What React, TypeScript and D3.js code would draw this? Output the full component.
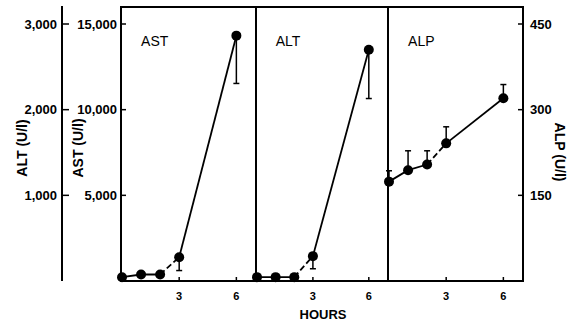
import React, { useEffect, useRef } from 'react';
import * as d3 from 'd3';

const HOURS = [0, 1, 2, 3, 6];
const HOUR_TICKS = [3, 6];

const AST_VALUES = [220, 380, 380, 1390, 14320];
const AST_ERR_DOWN = [0, 0, 0, 780, 2790];

const ALT_VALUES = [45, 45, 45, 290, 2700];
const ALT_ERR_DOWN = [0, 0, 0, 147, 570];

const ALP_VALUES = [174, 194, 204, 241, 320];
const ALP_ERR_UP = [19, 34, 24, 29, 24];

const ALT_TICKS = [1000, 2000, 3000];
const AST_TICKS = [5000, 10000, 15000];
const ALP_TICKS = [150, 300, 450];

const PANEL_LABELS = ['AST', 'ALT', 'ALP'];

const FONT = "Arial, 'Liberation Sans', Helvetica, sans-serif";

function App() {
  const svgRef = useRef(null);

  useEffect(() => {
    const svg = d3.select(svgRef.current);
    svg.selectAll('*').remove();

    const top = 7;
    const bottom = 281;
    const yTop = 24;
    const panelEdges = [121, 256, 388, 523];
    const outerAxisX = 62;

    const yAlt = d3.scaleLinear().domain([0, 3000]).range([bottom, yTop]);
    const yAst = d3.scaleLinear().domain([0, 15000]).range([bottom, yTop]);
    const yAlp = d3.scaleLinear().domain([0, 450]).range([bottom, yTop]);

    const fmt = d3.format(',');

    // outer ALT axis
    svg.append('line')
      .attr('x1', outerAxisX).attr('x2', outerAxisX)
      .attr('y1', 6).attr('y2', bottom)
      .attr('stroke', '#000').attr('stroke-width', 2);

    ALT_TICKS.forEach(t => {
      svg.append('line')
        .attr('x1', outerAxisX).attr('x2', outerAxisX + 7)
        .attr('y1', yAlt(t)).attr('y2', yAlt(t))
        .attr('stroke', '#000').attr('stroke-width', 1.5);
      svg.append('text')
        .attr('x', outerAxisX - 5).attr('y', yAlt(t))
        .attr('dy', '0.35em')
        .attr('text-anchor', 'end')
        .attr('font-family', FONT).attr('font-weight', 'bold').attr('font-size', 13)
        .text(fmt(t));
    });

    // AST axis (left frame edge)
    AST_TICKS.forEach(t => {
      svg.append('line')
        .attr('x1', panelEdges[0]).attr('x2', panelEdges[0] + 5)
        .attr('y1', yAst(t)).attr('y2', yAst(t))
        .attr('stroke', '#000').attr('stroke-width', 1.5);
      svg.append('text')
        .attr('x', panelEdges[0] - 4).attr('y', yAst(t))
        .attr('dy', '0.35em')
        .attr('text-anchor', 'end')
        .attr('font-family', FONT).attr('font-weight', 'bold').attr('font-size', 13)
        .text(fmt(t));
    });

    // ALP axis (right frame edge)
    ALP_TICKS.forEach(t => {
      svg.append('line')
        .attr('x1', panelEdges[3] - 5).attr('x2', panelEdges[3])
        .attr('y1', yAlp(t)).attr('y2', yAlp(t))
        .attr('stroke', '#000').attr('stroke-width', 1.5);
      svg.append('text')
        .attr('x', panelEdges[3] + 7).attr('y', yAlp(t))
        .attr('dy', '0.35em')
        .attr('text-anchor', 'start')
        .attr('font-family', FONT).attr('font-weight', 'bold').attr('font-size', 13)
        .text(t);
    });

    // frame
    svg.append('rect')
      .attr('x', panelEdges[0]).attr('y', top)
      .attr('width', panelEdges[3] - panelEdges[0]).attr('height', bottom - top)
      .attr('fill', 'none').attr('stroke', '#000').attr('stroke-width', 2);
    [panelEdges[1], panelEdges[2]].forEach(x => {
      svg.append('line')
        .attr('x1', x).attr('x2', x).attr('y1', top).attr('y2', bottom)
        .attr('stroke', '#000').attr('stroke-width', 2);
    });

    // axis titles
    svg.append('text')
      .attr('transform', 'translate(27,148) rotate(-90)')
      .attr('text-anchor', 'middle')
      .attr('font-family', FONT).attr('font-weight', 'bold').attr('font-size', 14)
      .text('ALT (U/l)');
    svg.append('text')
      .attr('transform', 'translate(83,148) rotate(-90)')
      .attr('text-anchor', 'middle')
      .attr('font-family', FONT).attr('font-weight', 'bold').attr('font-size', 14)
      .text('AST (U/l)');
    svg.append('text')
      .attr('transform', 'translate(555,152) rotate(90)')
      .attr('text-anchor', 'middle')
      .attr('font-family', FONT).attr('font-weight', 'bold').attr('font-size', 14)
      .text('ALP (U/l)');

    svg.append('text')
      .attr('x', 323).attr('y', 319)
      .attr('text-anchor', 'middle')
      .attr('font-family', FONT).attr('font-weight', 'bold').attr('font-size', 13)
      .text('HOURS');

    const panels = [
      { y: yAst, values: AST_VALUES, down: AST_ERR_DOWN, up: null },
      { y: yAlt, values: ALT_VALUES, down: ALT_ERR_DOWN, up: null },
      { y: yAlp, values: ALP_VALUES, down: null, up: ALP_ERR_UP },
    ];

    panels.forEach((p, i) => {
      const x = d3.scaleLinear().domain([0, 7.03]).range([panelEdges[i] + 1, panelEdges[i + 1]]);
      const g = svg.append('g');

      g.append('text')
        .attr('x', x(1)).attr('y', 46)
        .attr('font-family', FONT).attr('font-size', 14)
        .text(PANEL_LABELS[i]);

      HOUR_TICKS.forEach(h => {
        g.append('line')
          .attr('x1', x(h)).attr('x2', x(h))
          .attr('y1', bottom - 4).attr('y2', bottom)
          .attr('stroke', '#000').attr('stroke-width', 1.5);
        g.append('text')
          .attr('x', x(h)).attr('y', 300)
          .attr('text-anchor', 'middle')
          .attr('font-family', FONT).attr('font-weight', 'bold').attr('font-size', 11)
          .text(h);
      });

      // error bars
      HOURS.forEach((h, k) => {
        const v = p.values[k];
        const e = p.down ? -p.down[k] : p.up[k];
        if (!e) return;
        g.append('line')
          .attr('x1', x(h)).attr('x2', x(h))
          .attr('y1', p.y(v)).attr('y2', p.y(v + e))
          .attr('stroke', '#000').attr('stroke-width', 1.5);
        g.append('line')
          .attr('x1', x(h) - 3).attr('x2', x(h) + 3)
          .attr('y1', p.y(v + e)).attr('y2', p.y(v + e))
          .attr('stroke', '#000').attr('stroke-width', 1.5);
      });

      const pts = HOURS.map((h, k) => [x(h), p.y(p.values[k])]);
      const line = d3.line();
      g.append('path')
        .attr('d', line(pts.slice(0, 3)))
        .attr('fill', 'none').attr('stroke', '#000').attr('stroke-width', 1.8);
      g.append('path')
        .attr('d', line(pts.slice(2, 4)))
        .attr('fill', 'none').attr('stroke', '#000').attr('stroke-width', 1.8)
        .attr('stroke-dasharray', '6,3');
      g.append('path')
        .attr('d', line(pts.slice(3)))
        .attr('fill', 'none').attr('stroke', '#000').attr('stroke-width', 1.8);

      g.selectAll('circle')
        .data(pts)
        .enter()
        .append('circle')
        .attr('cx', d => d[0]).attr('cy', d => d[1])
        .attr('r', 5)
        .attr('fill', '#000');
    });
  }, []);

  return (
    <svg ref={svgRef} width={570} height={325}
      style={{ position: 'absolute', left: 0, top: 0, display: 'block', background: '#fff' }} />
  );
}

export default App;
